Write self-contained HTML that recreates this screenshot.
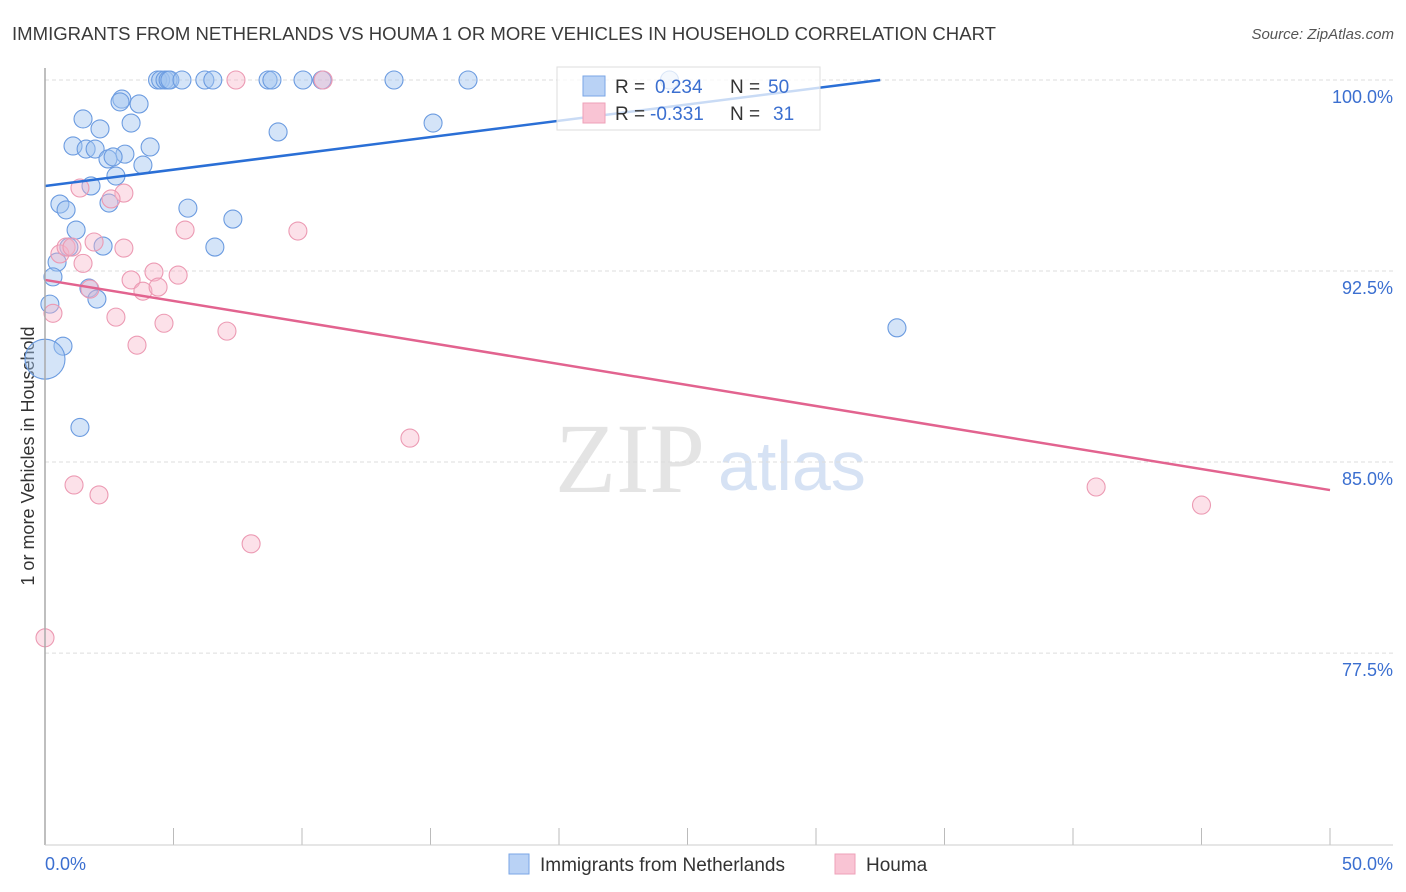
<!DOCTYPE html>
<html><head><meta charset="utf-8"><style>
body{margin:0;background:#fff;font-family:"Liberation Sans",sans-serif;}
#wrap{position:relative;width:1406px;height:892px;overflow:hidden;}
</style></head><body>
<div id="wrap">
<svg id="svg" width="1406" height="892" xmlns="http://www.w3.org/2000/svg">
<text x="12" y="40" font-size="18" fill="#3a3a3a" textLength="984" lengthAdjust="spacingAndGlyphs">IMMIGRANTS FROM NETHERLANDS VS HOUMA 1 OR MORE VEHICLES IN HOUSEHOLD CORRELATION CHART</text>
<text x="1394" y="39" font-size="15" fill="#555" font-style="italic" text-anchor="end">Source: ZipAtlas.com</text>
<text x="34" y="456" font-size="18" fill="#333" text-anchor="middle" transform="rotate(-90 34 456)">1 or more Vehicles in Household</text>
<text x="555" y="492" font-size="100" fill="#e4e4e4" font-family="Liberation Serif,serif">ZIP</text>
<text x="718" y="490" font-size="70" fill="#d6e2f4">atlas</text>
<g id="grid"></g><g id="pts"></g><g id="lines"></g>
<line x1="45" y1="68" x2="45" y2="845" stroke="#aaa" stroke-width="1.5"/>
<line x1="45" y1="845" x2="1393" y2="845" stroke="#ccc" stroke-width="1"/>
<text x="45" y="870" font-size="18" fill="#3b6fd0">0.0%</text>
<text x="1393" y="870" font-size="18" fill="#3b6fd0" text-anchor="end">50.0%</text>
<g>
<rect x="557" y="67" width="263" height="63" fill="rgba(255,255,255,0.75)" stroke="#ddd"/>
<rect x="583" y="76" width="22" height="20" fill="#b9d2f5" stroke="#7aa6e6"/>
<rect x="583" y="103" width="22" height="20" fill="#f9c4d4" stroke="#eea1b8"/>
<text x="615" y="93" font-size="19" fill="#333">R = </text><text x="655" y="93" font-size="19" fill="#3b6fd0">0.234</text>
<text x="730" y="93" font-size="19" fill="#333">N = </text><text x="768" y="93" font-size="19" fill="#3b6fd0">50</text>
<text x="615" y="120" font-size="19" fill="#333">R = </text><text x="650" y="120" font-size="19" fill="#3b6fd0">-0.331</text>
<text x="730" y="120" font-size="19" fill="#333">N = </text><text x="773" y="120" font-size="19" fill="#3b6fd0">31</text>
</g>
<g>
<rect x="509" y="854" width="20" height="20" fill="#b9d2f5" stroke="#7aa6e6"/>
<text x="540" y="871" font-size="19" fill="#333">Immigrants from Netherlands</text>
<rect x="835" y="854" width="20" height="20" fill="#f9c4d4" stroke="#eea1b8"/>
<text x="866" y="871" font-size="19" fill="#333">Houma</text>
</g>
</svg></div>
<script>
const yTicks=[100,92.5,85,77.5];
const yTickLabels=["100.0%","92.5%","85.0%","77.5%"];
const blueX=[4.38,4.5,4.67,4.79,4.86,5.33,6.22,6.53,8.68,8.83,10.04,10.78,13.58,16.46,2.99,3.66,2.92,1.48,3.35,2.14,9.07,15.1,1.09,1.6,1.95,4.09,3.11,2.45,2.65,3.81,2.76,1.79,0.58,0.82,2.49,5.56,7.31,1.21,0.93,2.26,6.61,0.47,0.31,1.71,2.02,0.19,0.7,0.0,1.36,33.15,24.3];
const blueY=[100,100,100,100,100,100,100,100,100,100,100,100,100,100,99.25,99.06,99.14,98.47,98.31,98.08,97.96,98.31,97.41,97.29,97.29,97.37,97.09,96.9,96.98,96.66,96.23,95.84,95.13,94.9,95.17,94.97,94.54,94.11,93.44,93.48,93.44,92.85,92.27,91.83,91.4,91.2,89.55,89.04,86.36,90.27,100];
const blueR=[9,9,9,9,9,9,9,9,9,9,9,9,9,9,9,9,9,9,9,9,9,9,9,9,9,9,9,9,9,9,9,9,9,9,9,9,9,9,9,9,9,9,9,9,9,9,9,20,9,9,9];
const pinkX=[7.43,10.82,1.36,3.07,2.57,0.58,0.82,1.91,3.07,5.45,9.84,1.48,3.35,4.24,5.18,3.81,4.4,1.75,0.31,2.76,4.63,7.08,3.58,14.2,1.13,2.1,8.02,0.0,40.9,45.0,1.05];
const pinkY=[100,100,95.76,95.56,95.33,93.17,93.44,93.64,93.4,94.11,94.07,92.8,92.15,92.46,92.34,91.71,91.87,91.79,90.84,90.69,90.45,90.14,89.59,85.94,84.1,83.71,81.79,78.1,84.02,83.31,93.44];
const blueTrend=[95.84,0.128];
const pinkTrend=[92.15,-0.165];
const xs=v=>45+v*25.7, ys=v=>80+(100-v)*25.47;
const NS="http://www.w3.org/2000/svg";
const grid=document.getElementById('grid');
yTicks.forEach((t,i)=>{
 const l=document.createElementNS(NS,'line');
 l.setAttribute('x1',45);l.setAttribute('x2',1393);l.setAttribute('y1',ys(t));l.setAttribute('y2',ys(t));
 l.setAttribute('stroke','#ddd');l.setAttribute('stroke-dasharray','4,3');
 
 
 grid.appendChild(l);
 const tx=document.createElementNS(NS,'text');
 tx.setAttribute('x',1393);tx.setAttribute('y',ys(t)+23);tx.setAttribute('text-anchor','end');
 tx.setAttribute('font-size','18');tx.setAttribute('fill','#3b6fd0');tx.textContent=yTickLabels[i];
 
 
 grid.appendChild(tx);
});
for(let i=0;i<=10;i++){
 const l=document.createElementNS(NS,'line');
 l.setAttribute('x1',xs(i*5));l.setAttribute('x2',xs(i*5));l.setAttribute('y1',828);l.setAttribute('y2',845);
 l.setAttribute('stroke','#bbb');
 
 
 grid.appendChild(l);
}
const pts=document.getElementById('pts');
blueX.forEach((x,i)=>{
 const c=document.createElementNS(NS,'circle');
 c.setAttribute('cx',xs(x));c.setAttribute('cy',ys(blueY[i]));c.setAttribute('r',blueR[i]);
 c.setAttribute('fill','rgba(160,195,240,0.45)');c.setAttribute('stroke','#6b9be0');c.setAttribute('stroke-width','1.1');
 
 
 pts.appendChild(c);
});
pinkX.forEach((x,i)=>{
 const c=document.createElementNS(NS,'circle');
 c.setAttribute('cx',xs(x));c.setAttribute('cy',ys(pinkY[i]));c.setAttribute('r',9);
 c.setAttribute('fill','rgba(248,180,200,0.4)');c.setAttribute('stroke','#ec9ab3');c.setAttribute('stroke-width','1.1');
 
 
 pts.appendChild(c);
});
const lines=document.getElementById('lines');
function trend(tr,x1,x2,col,name){
 const l=document.createElementNS(NS,'line');
 l.setAttribute('x1',xs(x1));l.setAttribute('y1',ys(tr[0]+tr[1]*x1));
 l.setAttribute('x2',xs(x2));l.setAttribute('y2',ys(tr[0]+tr[1]*x2));
 l.setAttribute('stroke',col);l.setAttribute('stroke-width','2.5');
 
 
 lines.appendChild(l);
}
trend(blueTrend,0,32.5,'#2a6fd6','netherlands-trendline');
trend(pinkTrend,0,50,'#e2638f','houma-trendline');
</script>
</body></html>
